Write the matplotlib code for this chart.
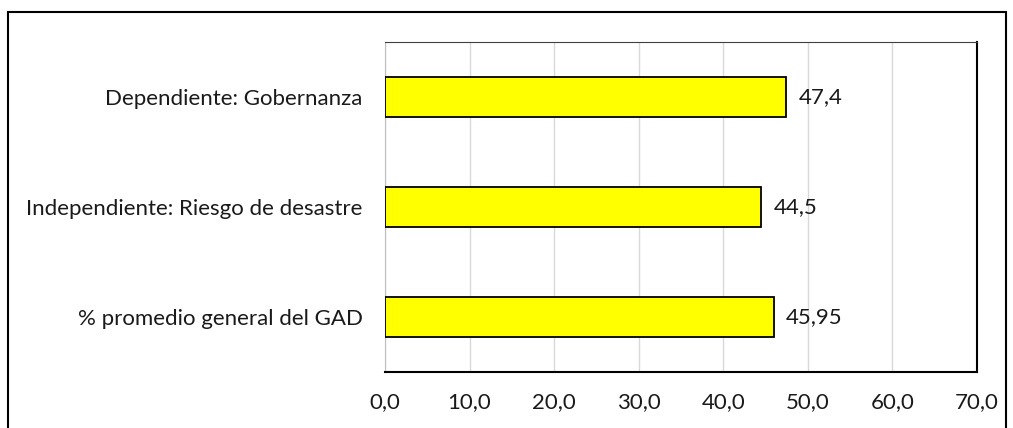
import matplotlib
matplotlib.use("Agg")
import matplotlib.pyplot as plt
from matplotlib.patches import Rectangle

categories = ["% promedio general del GAD", "Independiente: Riesgo de desastre", "Dependiente: Gobernanza"]
values = [45.95, 44.5, 47.4]
value_labels = ["45,95", "44,5", "47,4"]
xticks = [0, 10, 20, 30, 40, 50, 60, 70]
xtick_labels = ["0,0", "10,0", "20,0", "30,0", "40,0", "50,0", "60,0", "70,0"]

plt.rcParams['font.family'] = ['Lato', 'DejaVu Sans']

W, H = 1013, 428
fig = plt.figure(figsize=(W/100, H/100), dpi=100)
ax = fig.add_axes([385/W, 1 - 372/H, (977-385)/W, (372-42)/H])

y = list(range(len(categories)))
ax.barh(y, values, height=0.36, color="#FFFF00", edgecolor="black", linewidth=1.3, zorder=3)
for yi, v, lab in zip(y, values, value_labels):
    ax.annotate(lab, (v, yi), xytext=(9, 0), textcoords="offset points",
                ha="left", va="center", fontsize=16, color="#1a1a1a")

ax.set_xlim(0, 70)
ax.set_ylim(-0.5, len(categories) - 0.5)
ax.set_xticks(xticks)
ax.set_xticklabels(xtick_labels, fontsize=16, color="#1a1a1a")
ax.set_yticks(y)
ax.set_yticklabels(categories, fontsize=16, color="#1a1a1a")
ax.tick_params(axis="both", length=0)
ax.tick_params(axis="x", pad=14.5)
ax.tick_params(axis="y", pad=16)
ax.grid(axis="x", color="#D9D9D9", linewidth=1, zorder=0)
ax.set_axisbelow(True)
ax.spines["left"].set_color("#BFBFBF")
ax.spines["top"].set_color("#404040")
ax.spines["top"].set_linewidth(0.8)
ax.spines["bottom"].set_color("black")
ax.spines["bottom"].set_linewidth(1.5)
ax.spines["right"].set_color("black")
ax.spines["right"].set_linewidth(1.5)

fig.patches.append(Rectangle((8/W, -0.05), (1006-8)/W, 1.05 - 12/H,
                             transform=fig.transFigure, fill=False,
                             edgecolor="black", linewidth=1.5))

fig.savefig("out.png", dpi=100)
